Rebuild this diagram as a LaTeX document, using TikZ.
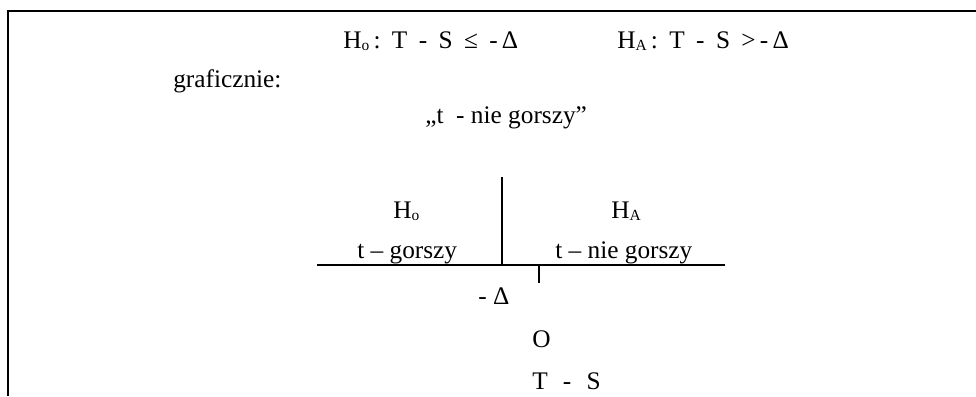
\documentclass[tikz,border=0pt]{standalone}
\usepackage{fontspec}
\setmainfont{Liberation Serif}
\usetikzlibrary{positioning}

% small index letter after H
\newcommand{\hidx}[1]{\raisebox{-1.5pt}{\fontsize{11}{11}\selectfont #1}}
\newcommand{\wsp}{\hspace{0.45em}}

\tikzset{
    txt/.style={inner sep=0pt, anchor=base west},
    frame/.style={line width=1.7pt},
    axis/.style={line width=0.8pt}
}

\begin{document}
\begin{tikzpicture}[
    x=0.025cm, y=-0.025cm,
    font=\fontsize{18}{20}\selectfont
]
\useasboundingbox (0,0) rectangle (976,396);

% frame (top and left edges only)
\draw [frame] (8,396) -- (8,11) -- (976,11);

% hypotheses
\node [txt] (hzero) at (343,48) {H\hidx{o}\,:\wsp T\wsp -\wsp S\wsp ≤\wsp -\,Δ};
\node [txt] (halt) at (617,48) {H\hidx{A}\,:\wsp T\wsp -\wsp S\wsp >\,-\,Δ};

\node [txt] (graf) at (173,87) {graficznie:};
\node [txt] (title) at (425,123) {„t\ \ - nie gorszy”};

% regions above the axis
\node [txt] (rzero) at (393,218) {H\hidx{o}};
\node [txt] (ralt) at (611,218) {H\hidx{A}};
\node [txt] (worse) at (357,258) {t – gorszy};
\node [txt] (notworse) at (555,258) {t – nie gorszy};

% axis, divider at -Delta and tick at zero
\coordinate (axl) at (317,265);
\coordinate (axr) at (725,265);
\coordinate (divtop) at (502,177);
\coordinate (divbot) at (502,265);
\coordinate (zero) at (539,265);
\coordinate (zerobot) at (539,283);
\draw [axis] (axl) -- (axr);
\draw [axis] (divtop) -- (divbot);
\draw [axis] (zero) -- (zerobot);

% labels below the axis
\node [txt] (mdelta) at (478,304) {-\ Δ};
\node [txt] (origin) at (532,347) {O};
\node [txt] (diff) at (532,389) {T\hspace{0.6em}-\hspace{0.6em}S};

\end{tikzpicture}
\end{document}
